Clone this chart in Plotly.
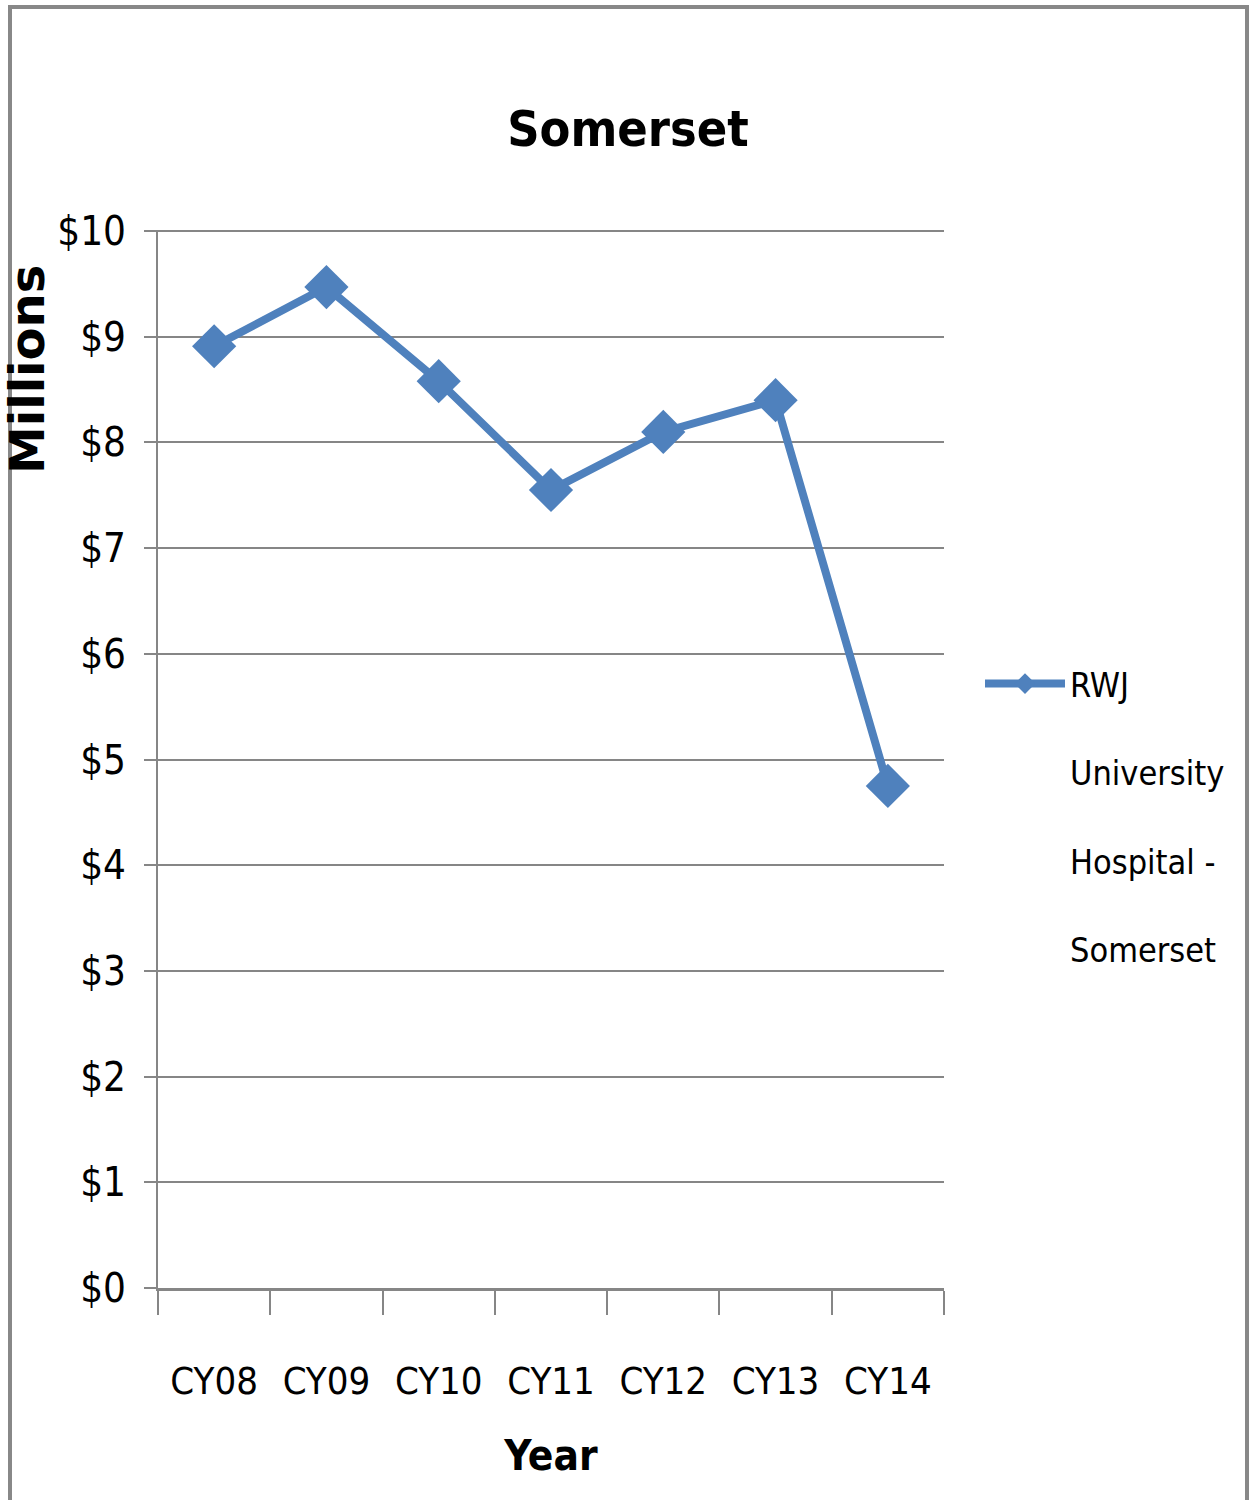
import plotly.graph_objects as go

years = ['CY08', 'CY09', 'CY10', 'CY11', 'CY12', 'CY13', 'CY14']
revenue_millions = [8.91, 9.47, 8.58, 7.55, 8.10, 8.40, 4.75]
series_name = 'RWJ<br><br>University<br><br>Hospital -<br><br>Somerset'

FONT = 'DejaVu Sans Condensed, Liberation Sans Narrow, sans-serif'
BLUE = '#4F81BD'
GRID = '#868686'

W, H = 1250, 1500
L, R, T, B = 158, 306, 230, 212
pw, ph = W - L - R, H - T - B


def px_x(x):
    return (x - L) / pw


def px_y(y):
    return (H - B - y) / ph


fig = go.Figure()

fig.add_trace(
    go.Scatter(
        x=years,
        y=revenue_millions,
        name=series_name,
        mode='lines+markers',
        line=dict(color=BLUE, width=8),
        marker=dict(symbol='diamond', size=34, color=BLUE),
        showlegend=True,
    )
)

fig.update_layout(
    width=W,
    height=H,
    margin=dict(l=L, r=R, t=T, b=B),
    paper_bgcolor='white',
    plot_bgcolor='white',
    font=dict(family=FONT, color='black'),
    title=dict(
        text='<b>Somerset</b>',
        font=dict(size=50, family=FONT),
        x=628 / W,
        xanchor='center',
        y=1 - 128 / H,
        yanchor='middle',
    ),
    showlegend=True,
    legend=dict(
        x=px_x(980),
        xanchor='left',
        y=px_y(655),
        yanchor='top',
        valign='top',
        itemwidth=80,
        font=dict(size=34, family=FONT),
        bgcolor='rgba(0,0,0,0)',
    ),
)

fig.update_xaxes(
    type='category',
    range=[-0.5, 6.5],
    tickson='boundaries',
    ticks='outside',
    ticklen=24,
    tickwidth=2,
    tickcolor=GRID,
    showline=True,
    linecolor=GRID,
    linewidth=3,
    showgrid=False,
    tickfont=dict(size=38, family=FONT),
    ticklabelstandoff=57,
    title=dict(text='<b>Year</b>', font=dict(size=42, family=FONT), standoff=40),
)

fig.update_yaxes(
    range=[0, 10.01],
    dtick=1,
    tick0=0,
    tickprefix='$',
    ticks='outside',
    ticklen=12,
    tickwidth=2,
    tickcolor=GRID,
    showline=True,
    linecolor=GRID,
    linewidth=2,
    showgrid=True,
    gridcolor=GRID,
    gridwidth=2,
    zeroline=False,
    tickfont=dict(size=40, family=FONT),
    ticklabelstandoff=10,
)

fig.add_annotation(
    text='<b>Millions</b>',
    textangle=-90,
    xref='paper',
    yref='paper',
    x=px_x(27),
    y=px_y(370),
    xanchor='center',
    yanchor='middle',
    showarrow=False,
    font=dict(size=48, family='DejaVu Sans, sans-serif', color='black'),
)

# outer chart border
fig.add_shape(
    type='rect',
    xref='paper',
    yref='paper',
    x0=px_x(10),
    x1=px_x(1247),
    y0=px_y(1502),
    y1=px_y(7),
    line=dict(color='#888888', width=4),
    layer='below',
)

fig.write_html(
    'out.html',
    config={'displayModeBar': False},
    post_script="document.body.style.margin='0';",
)
